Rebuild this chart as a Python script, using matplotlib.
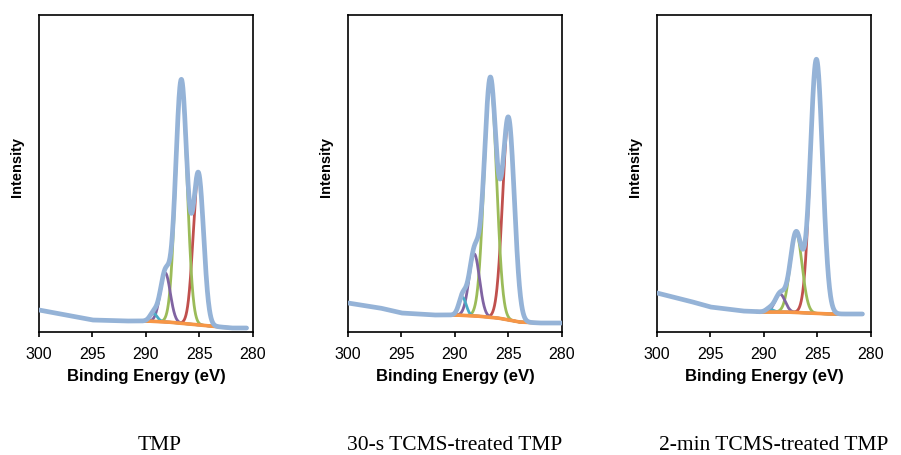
import numpy as np
import matplotlib
matplotlib.use('Agg')
import matplotlib.pyplot as plt

# C 1s fit components: center (eV), height (a.u.), FWHM (eV)
# order: C-C (red), C-O (green), C=O (purple), O-C=O (cyan)
centers_tmp = [285.1, 286.7, 288.2, 289.3]
heights_tmp = [150, 243, 49, 8]
fwhm_tmp = [1.15, 1.25, 1.1, 0.8]

centers_30s = [285.0, 286.7, 288.2, 289.3]
heights_30s = [200, 238, 62, 18]
fwhm_30s = [1.3, 1.35, 1.15, 0.8]

centers_2min = [285.1, 287.0, 288.5, 289.5]
heights_2min = [254, 80, 18, 3]
fwhm_2min = [1.35, 1.3, 1.1, 0.8]

# background (shirley-ish) knots, eV -> a.u.
bg_be_tmp = [300, 297, 295, 292, 290, 288, 286, 284, 282, 280.6]
bg_int_tmp = [22, 16, 12, 11, 11, 10, 8, 6, 4, 4]
bg_be_30s = [300, 297, 295, 292, 290, 288, 286, 284, 282, 280]
bg_int_30s = [29, 24, 19, 17, 17, 16, 14, 10, 9, 9]
bg_be_2min = [300, 297, 295, 292, 290, 288, 286, 284, 282, 280.8]
bg_int_2min = [39, 31, 25, 21, 20, 20, 19, 18, 18, 18]

end_tmp = 280.6
end_30s = 280.0
end_2min = 280.8

captions = ['TMP', '30-s TCMS-treated TMP', '2-min TCMS-treated TMP']

COMP_COLORS = ['#C0504D', '#9BBB59', '#8064A2', '#4BACC6']


def gauss(x, c, h, w):
    s = w / 2.3548
    return h * np.exp(-(x - c) ** 2 / (2 * s ** 2))


def plot_panel(ax, centers, heights, fwhm, bg_be, bg_int, x_end):
    x = np.linspace(300, x_end, 800)
    bg = np.interp(x, bg_be[::-1], bg_int[::-1])
    env = bg.copy()
    fit = (x < 291.0) & (x > 282.5)
    for c, h, w, col in zip(centers, heights, fwhm, COMP_COLORS):
        comp = gauss(x, c, h, w)
        env += comp
        ax.plot(x[fit], (comp + bg)[fit], color=col, lw=2.0, zorder=2)
    bfit = (x < 290.6) & (x > 282.3)
    ax.plot(x[bfit], bg[bfit], color='#F79646', lw=2.6, zorder=3)
    ax.plot(x, env, color='#4F81BD', lw=2.0, zorder=4)
    ax.plot(x, env, color='#95B3D7', lw=3.4, zorder=5, solid_capstyle='round')

    ax.set_xlim(300, 280)
    ax.set_ylim(0, 317)
    ax.set_xticks([300, 295, 290, 285, 280])
    ax.set_yticks([])
    ax.tick_params(axis='x', direction='out', length=3.5, width=1.2,
                   labelsize=11.5, pad=7)
    for sp in ax.spines.values():
        sp.set_linewidth(1.2)
        sp.set_color('black')
    ax.set_xlabel('Binding Energy (eV)', fontsize=12, fontweight='bold', labelpad=5)
    ax.set_ylabel('Intensity', fontsize=10.5, fontweight='bold')
    ax.yaxis.set_label_coords(-0.07, 0.52)


plt.rcParams['font.family'] = ['Liberation Sans', 'DejaVu Sans']
fig = plt.figure(figsize=(9.01, 4.55), dpi=100)

lefts = [39, 348, 657]
panels = [
    (centers_tmp, heights_tmp, fwhm_tmp, bg_be_tmp, bg_int_tmp, end_tmp),
    (centers_30s, heights_30s, fwhm_30s, bg_be_30s, bg_int_30s, end_30s),
    (centers_2min, heights_2min, fwhm_2min, bg_be_2min, bg_int_2min, end_2min),
]
cap_x = [160, 455, 774]

for left, p, cap, cx in zip(lefts, panels, captions, cap_x):
    ax = fig.add_axes([left / 901, 123 / 455, 214 / 901, 317 / 455])
    plot_panel(ax, *p)
    fig.text(cx / 901, 1 - 450 / 455, cap, ha='center', va='baseline',
             fontsize=15.5, family=['Liberation Serif', 'DejaVu Serif'])

plt.savefig('out.png', dpi=100)
